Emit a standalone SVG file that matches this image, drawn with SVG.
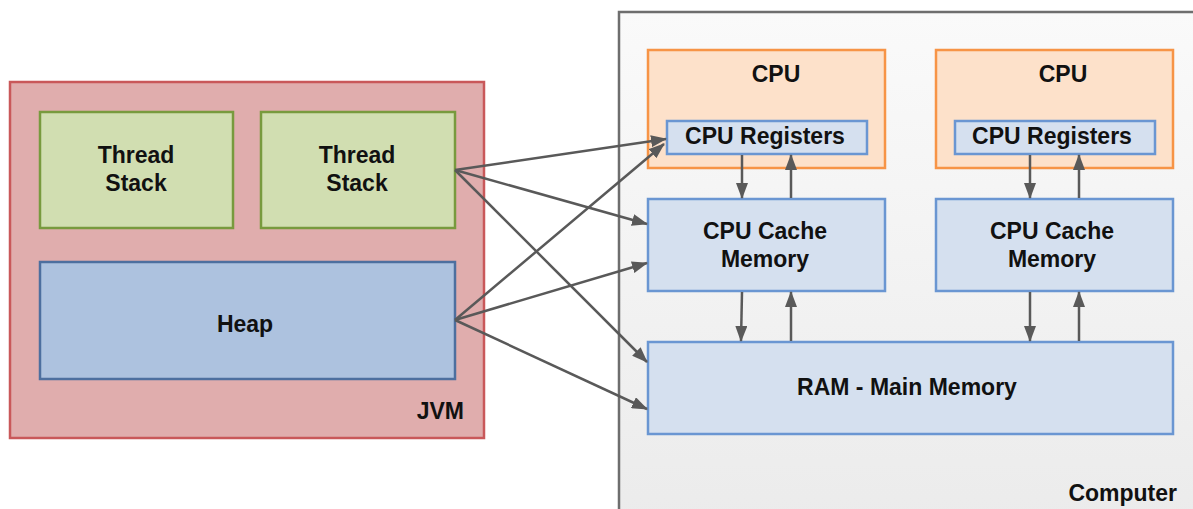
<svg xmlns="http://www.w3.org/2000/svg" width="1193" height="509" viewBox="0 0 1193 509">
<style>
text{font-family:"Liberation Sans",Arial,sans-serif;font-weight:bold;font-size:23px;fill:#111}
.c{text-anchor:middle}
.e{text-anchor:end}
.jvm{fill:#e0adad;stroke:#c9585a;stroke-width:2.5}
.ts{fill:#d1deb1;stroke:#789a3e;stroke-width:2.5}
.heap{fill:#adc2df;stroke:#4d6f9f;stroke-width:2.5}
.comp{fill:url(#g);stroke:#6e6e6e;stroke-width:2.5}
.cpu{fill:#fde1ca;stroke:#f79446;stroke-width:2.5}
.mem{fill:#d5e0ef;stroke:#6a96d2;stroke-width:2.5}
.ar{stroke:#595959;stroke-width:2.5;fill:none;marker-end:url(#ah)}
</style>
<defs>
<linearGradient id="g" x1="0" y1="0" x2="0" y2="1">
<stop offset="0" stop-color="#fafafa"/>
<stop offset="1" stop-color="#ebebeb"/>
</linearGradient>
<marker id="ah" markerUnits="userSpaceOnUse" markerWidth="16" markerHeight="12" viewBox="0 0 16 12" refX="15" refY="6" orient="auto">
<path d="M0,0 L16,6 L0,12 z" fill="#595959"/>
</marker>
</defs>
<rect width="1193" height="509" fill="#fff"/>
<g id="jvm">
<rect class="jvm" x="10" y="82" width="474" height="356"/>
<text class="e" x="464" y="419">JVM</text>
</g>
<g id="thread-stack-1">
<rect class="ts" x="40" y="112" width="193" height="116"/>
<text class="c" x="136" y="163">Thread</text>
<text class="c" x="136" y="191">Stack</text>
</g>
<g id="thread-stack-2">
<rect class="ts" x="261" y="112" width="194" height="116"/>
<text class="c" x="357" y="163">Thread</text>
<text class="c" x="357" y="191">Stack</text>
</g>
<g id="heap">
<rect class="heap" x="40" y="262" width="415" height="117"/>
<text class="c" x="245" y="332">Heap</text>
</g>
<g id="computer">
<rect class="comp" x="619" y="12" width="600" height="520"/>
<text class="e" x="1177" y="501">Computer</text>
</g>
<g id="cpu-1">
<rect class="cpu" x="648" y="50" width="237" height="118"/>
<text class="c" x="776" y="82">CPU</text>
</g>
<g id="cpu-registers-1">
<rect class="mem" x="667" y="121" width="200" height="33"/>
<text class="c" x="765" y="144">CPU Registers</text>
</g>
<g id="cpu-2">
<rect class="cpu" x="936" y="50" width="237" height="118"/>
<text class="c" x="1063" y="82">CPU</text>
</g>
<g id="cpu-registers-2">
<rect class="mem" x="955" y="121" width="200" height="33"/>
<text class="c" x="1052" y="144">CPU Registers</text>
</g>
<g id="cache-1">
<rect class="mem" x="648" y="199" width="237" height="92"/>
<text class="c" x="765" y="239">CPU Cache</text>
<text class="c" x="765" y="267">Memory</text>
</g>
<g id="cache-2">
<rect class="mem" x="936" y="199" width="237" height="92"/>
<text class="c" x="1052" y="239">CPU Cache</text>
<text class="c" x="1052" y="267">Memory</text>
</g>
<g id="ram">
<rect class="mem" x="648" y="342" width="525" height="92"/>
<text class="c" x="907" y="395">RAM - Main Memory</text>
</g>
<g id="connectors">
<line class="ar" x1="455" y1="170" x2="666" y2="139"/>
<line class="ar" x1="455" y1="170" x2="647" y2="224"/>
<line class="ar" x1="455" y1="170" x2="647" y2="362"/>
<line class="ar" x1="455" y1="320" x2="664" y2="144"/>
<line class="ar" x1="455" y1="320" x2="647" y2="263"/>
<line class="ar" x1="455" y1="320" x2="647" y2="409"/>
<line class="ar" x1="742" y1="155" x2="742" y2="198"/>
<line class="ar" x1="791" y1="198" x2="791" y2="155"/>
<line class="ar" x1="742" y1="292" x2="741" y2="341"/>
<line class="ar" x1="791" y1="341" x2="791" y2="292"/>
<line class="ar" x1="1030" y1="155" x2="1030" y2="198"/>
<line class="ar" x1="1079" y1="198" x2="1079" y2="155"/>
<line class="ar" x1="1030" y1="292" x2="1030" y2="341"/>
<line class="ar" x1="1079" y1="341" x2="1079" y2="292"/>
</g>
</svg>
